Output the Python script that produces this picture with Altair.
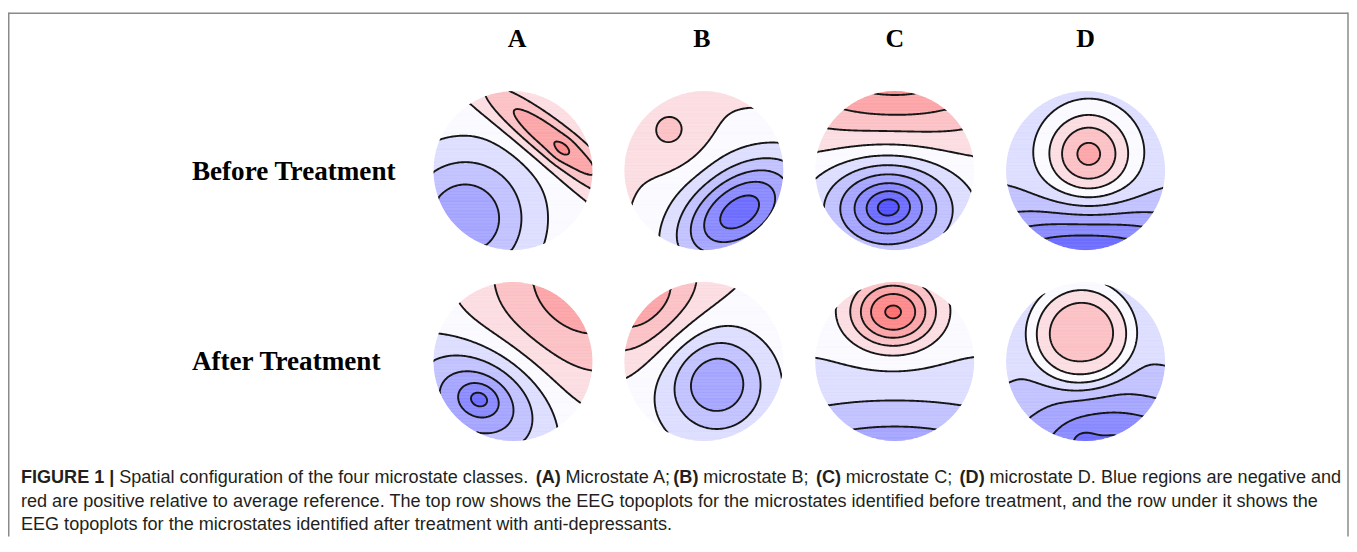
import numpy as np
import pandas as pd
import altair as alt
from collections import defaultdict

COLUMN_LETTERS = ["A", "B", "C", "D"]
ROW_LABELS = ["Before Treatment", "After Treatment"]

# Topoplot models. u to the right, v upwards, head radius 1.
# Field is in contour steps: band k spans k-0.5 .. k+0.5 (negative = blue, positive = red).
# blob = (u, v, amplitude, sigma_along, sigma_across, angle_deg, power); base = [offset, grad_u, grad_v]
A_BEFORE_BLOBS = [(-0.6, -0.6, -3.6, 0.6, 0.6, 0, 1), (0.5, 0.37, 3.2, 0.8, 0.18, -38, 1),
                  (0.62, 0.26, 0.45, 0.1, 0.1, 0, 1)]
A_BEFORE_BASE = [0.3, 0.0, 0.0]
B_BEFORE_BLOBS = [(0.45, -0.52, -4.9, 0.62, 0.36, 35, 1), (0.45, -0.52, -1.1, 1.0, 1.0, 0, 1),
                  (-0.4, 0.47, 1.1, 0.3, 0.3, 0, 1)]
B_BEFORE_BASE = [1.0, 0.0, 0.0]
C_BEFORE_BLOBS = [(-0.08, -0.46, -1.3, 0.18, 0.14, 10, 1), (-0.08, -0.45, -4.8, 0.55, 0.42, 0, 1),
                  (0.0, 1.5, 4.6, 1.3, 0.75, 0, 1)]
C_BEFORE_BASE = [0.0, 0.0, 0.0]
D_BEFORE_BLOBS = [(0.04, 0.2, 4.1, 0.39, 0.39, 0, 1), (0.0, -1.1, -4.2, 1.2, 0.42, 0, 1)]
D_BEFORE_BASE = [-1.3, 0.0, 0.0]
A_AFTER_BLOBS = [(1.0, 1.1, 3.8, 1.1, 1.1, 0, 1), (-0.42, -0.47, -1.3, 0.16, 0.13, -20, 1),
                 (-0.4, -0.47, -3.6, 0.58, 0.44, -25, 1)]
A_AFTER_BASE = [-0.5, 0.0, 0.0]
B_AFTER_BLOBS = [(0.16, -0.27, -3.5, 0.45, 0.45, 0, 1), (-0.8, 0.78, 2.8, 0.6, 0.45, 45, 1)]
B_AFTER_BASE = [0.2, 0.0, 0.2]
C_AFTER_BLOBS = [(-0.02, 0.62, 5.0, 0.38, 0.31, 0, 1), (0.0, -1.55, -3.8, 1.6, 0.7, 0, 1)]
C_AFTER_BASE = [-0.3, 0.0, 0.0]
D_AFTER_BLOBS = [(-0.05, 0.33, 3.2, 0.45, 0.45, 0, 2), (0.35, -1.1, -3.5, 0.9, 0.5, 0, 1),
                 (-0.05, -1.0, -0.5, 0.12, 0.12, 0, 1)]
D_AFTER_BASE = [-1.2, 0.0, 0.0]

MAPS = [
    (0, 0, A_BEFORE_BLOBS, A_BEFORE_BASE), (1, 0, B_BEFORE_BLOBS, B_BEFORE_BASE),
    (2, 0, C_BEFORE_BLOBS, C_BEFORE_BASE), (3, 0, D_BEFORE_BLOBS, D_BEFORE_BASE),
    (0, 1, A_AFTER_BLOBS, A_AFTER_BASE), (1, 1, B_AFTER_BLOBS, B_AFTER_BASE),
    (2, 1, C_AFTER_BLOBS, C_AFTER_BASE), (3, 1, D_AFTER_BLOBS, D_AFTER_BASE),
]

CAPTION_LINE1 = [
    ("FIGURE 1 |", "bold"),
    ("Spatial configuration of the four microstate classes.", "normal"),
    ("(A)", "bold"), ("Microstate A;", "normal"),
    ("(B)", "bold"), ("microstate B;", "normal"),
    ("(C)", "bold"), ("microstate C;", "normal"),
    ("(D)", "bold"), ("microstate D. Blue regions are negative and", "normal"),
]
CAPTION_LINE2 = ("red are positive relative to average reference. The top row shows the EEG topoplots "
                 "for the microstates identified before treatment, and the row under it shows the")
CAPTION_LINE3 = "EEG topoplots for the microstates identified after treatment with anti-depressants."

# ---------------------------------------------------------------- layout helpers
W, H = 1349, 530
UNIT = 192.0            # px between plot centres
RU = 80.0 / UNIT        # head radius in units
HEADER_PX = [520, 706, 900, 1092]


def ux(px):  # page x -> scale units
    return (px - 516.0) / UNIT


def uy(py):  # page y -> scale units
    return (py - 170.0) / UNIT


XLO, XHI = ux(8), ux(8 + W)
YLO, YHI = uy(8), uy(8 + H)

# Arial / Liberation Sans advance widths (per 1000 em) for placing the bold caption pieces
_REG = {' ': 278, '(': 333, ')': 333, ',': 278, '-': 333, '.': 278, ';': 278, '|': 260,
        'A': 667, 'B': 667, 'C': 722, 'D': 722, 'E': 667, 'F': 611, 'G': 778, 'I': 278,
        'R': 722, 'S': 667, 'T': 611, 'U': 722,
        'a': 556, 'b': 556, 'c': 500, 'd': 556, 'e': 556, 'f': 278, 'g': 556, 'h': 556,
        'i': 222, 'j': 222, 'k': 500, 'l': 222, 'm': 833, 'n': 556, 'o': 556, 'p': 556,
        'q': 556, 'r': 333, 's': 500, 't': 278, 'u': 556, 'v': 500, 'w': 722, 'x': 500,
        'y': 500, 'z': 500, '1': 556}
_BOLD = {' ': 278, '(': 333, ')': 333, '|': 280, '1': 556, 'A': 722, 'B': 722, 'C': 722,
         'D': 722, 'E': 667, 'F': 611, 'G': 778, 'I': 278, 'R': 722, 'U': 722}


def text_w(s, bold, size):
    tab = _BOLD if bold else _REG
    return sum(tab.get(ch, 556) for ch in s) * size / 1000.0


CAP_SIZE = 1306.0 / (text_w(CAPTION_LINE2, False, 1000) / 1000.0)


def field(blobs, base, U, V):
    c, gu, gv = base
    F = c + gu * U + gv * V
    for (u0, v0, a, su, sv, ang, pw) in blobs:
        t = np.deg2rad(ang)
        du, dv = U - u0, V - v0
        p = du * np.cos(t) + dv * np.sin(t)
        q = -du * np.sin(t) + dv * np.cos(t)
        rho = p ** 2 / (2 * su ** 2) + q ** 2 / (2 * sv ** 2)
        F = F + a * np.exp(-rho ** pw)
    return F


def band_runs(blobs, base, nrow=110, nsamp=500):
    runs = []
    for r in range(nrow):
        vt = 1 - 2 * r / nrow
        vb = vt - 2 / nrow
        vc = (vt + vb) / 2
        half = np.sqrt(max(0.0, 1 - vc ** 2))
        us = np.linspace(-half, half, nsamp)
        f = field(blobs, base, us, np.full_like(us, vc))
        k = np.round(f).astype(int)
        start, cur = -half, k[0]
        for i in range(1, nsamp):
            if k[i] != cur:
                L = (k[i] + cur) / 2.0
                t = (L - f[i - 1]) / (f[i] - f[i - 1])
                x = us[i - 1] + t * (us[i] - us[i - 1])
                runs.append((start, x, vt, vb, int(cur)))
                start, cur = x, k[i]
        runs.append((start, half, vt, vb, int(cur)))
    return runs


EDGE_PAIRS = {1: [(3, 0)], 2: [(0, 1)], 3: [(3, 1)], 4: [(1, 2)], 6: [(0, 2)], 7: [(3, 2)],
              8: [(3, 2)], 9: [(0, 2)], 11: [(1, 2)], 12: [(3, 1)], 13: [(0, 1)], 14: [(3, 0)]}


def ekey(i, j, e):
    return [("h", i, j), ("v", i, j + 1), ("h", i + 1, j), ("v", i, j)][e]


def contour_chains(F, gu, gv, L):
    A = F[:-1, :-1] > L
    B = F[:-1, 1:] > L
    C = F[1:, 1:] > L
    D = F[1:, :-1] > L
    case = A * 1 + B * 2 + C * 4 + D * 8
    segs = []
    for i, j in np.argwhere((case > 0) & (case < 15)):
        cs = int(case[i, j])
        if cs in (5, 10):
            cen = (F[i, j] + F[i, j + 1] + F[i + 1, j + 1] + F[i + 1, j]) / 4 > L
            if cs == 5:
                pairs = [(0, 1), (3, 2)] if cen else [(3, 0), (1, 2)]
            else:
                pairs = [(3, 0), (1, 2)] if cen else [(0, 1), (3, 2)]
        else:
            pairs = EDGE_PAIRS[cs]
        for e1, e2 in pairs:
            segs.append((ekey(i, j, e1), ekey(i, j, e2)))
    adj = defaultdict(list)
    for s, (k1, k2) in enumerate(segs):
        adj[k1].append(s)
        adj[k2].append(s)
    used = [False] * len(segs)

    def walk(key):
        chain = [key]
        while True:
            nxt = None
            for s in adj[key]:
                if not used[s]:
                    nxt = s
                    break
            if nxt is None:
                break
            used[nxt] = True
            k1, k2 = segs[nxt]
            key = k2 if k1 == key else k1
            chain.append(key)
        return chain

    chains = []
    for key, ss in list(adj.items()):
        if len(ss) == 1 and not used[ss[0]]:
            chains.append(walk(key))
    for s in range(len(segs)):
        if not used[s]:
            chains.append(walk(segs[s][0]))

    def pt(key):
        kind, i, j = key
        if kind == "h":
            f0, f1 = F[i, j], F[i, j + 1]
            t = (L - f0) / (f1 - f0)
            return gu[j] + t * (gu[j + 1] - gu[j]), gv[i]
        f0, f1 = F[i, j], F[i + 1, j]
        t = (L - f0) / (f1 - f0)
        return gu[j], gv[i] + t * (gv[i + 1] - gv[i])

    out = []
    for ch in chains:
        pts = np.array([pt(k) for k in ch])
        r = np.hypot(pts[:, 0], pts[:, 1])
        inside = r <= 1.0
        piece = []
        for n in range(len(pts)):
            if inside[n]:
                if not piece and n > 0:
                    piece.append(pts[n - 1] / r[n - 1])
                piece.append(pts[n])
            else:
                if piece:
                    piece.append(pts[n] / r[n])
                    out.append(np.array(piece))
                    piece = []
        if len(piece) > 1:
            out.append(np.array(piece))
    return out


band_rows, line_rows, centre_rows = [], [], []
NG = 141
g = np.linspace(-1.04, 1.04, NG)
GU, GV = np.meshgrid(g, g)
lid = 0
for col, row, blobs, base in MAPS:
    centre_rows.append({"x": col, "y": row})
    for (u0, u1, vt, vb, k) in band_runs(blobs, base):
        band_rows.append({"x": col + RU * u0, "x2": col + RU * u1,
                          "y": row - RU * vt, "y2": row - RU * vb, "k": k})
    F = field(blobs, base, GU, GV)
    fin = F[np.hypot(GU, GV) <= 1.0]
    for L in np.arange(np.floor(fin.min()) - 0.5, np.ceil(fin.max()) + 0.6, 1.0):
        for piece in contour_chains(F, g, g, L):
            for o, (u, v) in enumerate(piece):
                line_rows.append({"x": round(col + RU * u, 5), "y": round(row - RU * v, 5),
                                  "lid": lid, "o": o})
            lid += 1

band_df = pd.DataFrame(band_rows)
line_df = pd.DataFrame(line_rows)
centre_df = pd.DataFrame(centre_rows)

xs = alt.Scale(domain=[XLO, XHI], nice=False, zero=False)
ys = alt.Scale(domain=[YLO, YHI], nice=False, zero=False, reverse=True)
cs = alt.Scale(domain=[-7, 0, 7], range=["#3636ff", "#fafaff", "#ff3636"], interpolate="rgb")
X = alt.X("x:Q", scale=xs, axis=None)
Y = alt.Y("y:Q", scale=ys, axis=None)

bands = alt.Chart(band_df).mark_rect(strokeWidth=0.6).encode(
    x=X, x2="x2:Q", y=Y, y2="y2:Q",
    color=alt.Color("k:Q", scale=cs, legend=None),
    stroke=alt.Stroke("k:Q", scale=cs, legend=None),
)
lines = alt.Chart(line_df).mark_line(color="#161616", strokeWidth=1.9, strokeJoin="round",
                                     strokeCap="round").encode(
    x=X, y=Y, detail="lid:N", order="o:Q")
ring = alt.Chart(centre_df).mark_point(shape="circle", size=(2 * 81.3) ** 2, filled=False,
                                       stroke="white", strokeWidth=2.6, opacity=1).encode(x=X, y=Y)

header_df = pd.DataFrame({"x": [ux(p) for p in HEADER_PX], "y": [uy(38)] * 4, "t": COLUMN_LETTERS})
headers = alt.Chart(header_df).mark_text(font="Liberation Serif", fontWeight="bold", fontSize=26,
                                         color="black", baseline="middle").encode(x=X, y=Y, text="t:N")

label_df = pd.DataFrame({"x": [ux(193)] * 2, "y": [uy(171), uy(363)], "t": ROW_LABELS})
labels = alt.Chart(label_df).mark_text(font="Liberation Serif", fontWeight="bold", fontSize=27.3,
                                       color="black", align="left", baseline="middle").encode(
    x=X, y=Y, text="t:N")

cap_rows = []
xpos = 21.0
space = text_w(" ", False, CAP_SIZE)
for t, w in CAPTION_LINE1:
    cap_rows.append({"x": ux(xpos), "y": uy(479), "t": t, "w": w})
    xpos += text_w(t, w == "bold", CAP_SIZE) + space + (2.2 if w == "normal" else -0.3)
cap_rows.append({"x": ux(21), "y": uy(503), "t": CAPTION_LINE2, "w": "normal"})
cap_rows.append({"x": ux(21), "y": uy(527), "t": CAPTION_LINE3, "w": "normal"})
cap_df = pd.DataFrame(cap_rows)
cap_layers = []
for wgt in ["normal", "bold"]:
    cap_layers.append(alt.Chart(cap_df[cap_df.w == wgt]).mark_text(
        font="Liberation Sans", fontWeight=wgt, fontSize=round(CAP_SIZE, 2), color="#231f20",
        align="left", baseline="middle").encode(x=X, y=Y, text="t:N"))

frame_src = pd.DataFrame({"a": [0]})
frame = [
    alt.Chart(frame_src).mark_rule(color="#8a8a8a", strokeWidth=1.5).encode(
        x=alt.value(0.75), y=alt.value(3), y2=alt.value(H)),
    alt.Chart(frame_src).mark_rule(color="#8a8a8a", strokeWidth=1.5).encode(
        x=alt.value(W - 1.0), y=alt.value(3), y2=alt.value(H)),
    alt.Chart(frame_src).mark_rule(color="#8a8a8a", strokeWidth=1.5).encode(
        x=alt.value(0.75), x2=alt.value(W - 1.0), y=alt.value(3.75)),
]

chart = alt.layer(bands, lines, ring, headers, labels, *cap_layers, *frame).properties(
    width=W, height=H, padding=0, background="white"
).configure_view(strokeWidth=0)

chart.save("out.html", embed_options={"renderer": "svg", "actions": False})
